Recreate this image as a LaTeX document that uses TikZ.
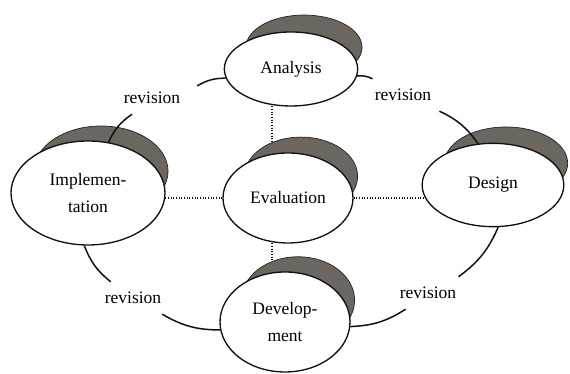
\documentclass[tikz,border=0pt]{standalone}
\usepackage{fontspec}
\setmainfont{Liberation Serif}
\usetikzlibrary{shapes.geometric,shadows}
\pgfdeclarelayer{background}
\pgfsetlayers{background,main}
\definecolor{shadowgray}{HTML}{6B6660}
\definecolor{line}{HTML}{111111}
\tikzset{
  phase/.style={
    ellipse,
    draw=line,
    line width=0.8pt,
    fill=white,
    align=center,
    inner sep=0pt,
    font=\fontsize{10.5}{16}\selectfont,
    drop shadow={shadow scale=0.87, shadow xshift=9pt, shadow yshift=15pt,
      opacity=1, fill=shadowgray, draw=black!85, line width=0.5pt}
  },
  revlabel/.style={
    font=\fontsize{10.5}{13}\selectfont,
    inner xsep=10pt,
    inner ysep=6pt
  },
  revline/.style={
    draw=line,
    line width=0.9pt
  },
  dotline/.style={
    draw=line,
    line width=0.8pt,
    dash pattern=on 0.7pt off 0.9pt
  }
}

\begin{document}
\begin{tikzpicture}[x=0.6pt, y=0.6pt]
\useasboundingbox (0,0) rectangle (570,374);

% The five phases, evaluation in the middle of the ring.
\node[phase, minimum width=78pt, minimum height=54pt] (evaluation) at (288,176) {Evaluation};
\node[phase, minimum width=80pt, minimum height=44.4pt] (analysis) at (291,305) {Analysis};
\node[phase, minimum width=92.4pt, minimum height=62.4pt] (implementation) at (88,181) {Implemen-\\tation};
\node[phase, minimum width=85pt, minimum height=50pt] (design) at (493,189) {Design};
\node[phase, minimum width=78pt, minimum height=60pt] (development) at (285,52) {Develop-\\ment};

% Evaluation is tied to every phase.
\begin{pgfonlayer}{background}
\coordinate (vline) at (272,0);
\draw[dotline] (analysis -| vline) -- (evaluation -| vline);
\draw[dotline] (evaluation -| vline) -- (development -| vline);
\draw[dotline] (implementation |- evaluation) -- (evaluation);
\draw[dotline] (evaluation) -- (design |- evaluation);
\end{pgfonlayer}

% Revision loops round the outside.
\node[revlabel] (revtl) at (152,276) {revision};
\node[revlabel] (revtr) at (403,279) {revision};
\node[revlabel] (revbl) at (133,76) {revision};
\node[revlabel] (revbr) at (428,81) {revision};

\draw[revline] (analysis.188) to[bend right=15] (revtl.15);
\draw[revline] (revtl.219) to[bend right=15] (implementation.68);
\draw[revline] (analysis.354) to[bend left=15] (revtr.152);
\draw[revline] (revtr.336) to[bend left=15] (design.110);
\draw[revline] (implementation.266) to[bend right=15] (revbl.144);
\draw[revline] (revbl.331) to[bend right=15] (development.187);
\draw[revline] (design.277) to[bend left=15] (revbr.28);
\draw[revline] (revbr.216) to[bend left=15] (development.356);

\end{tikzpicture}
\end{document}
